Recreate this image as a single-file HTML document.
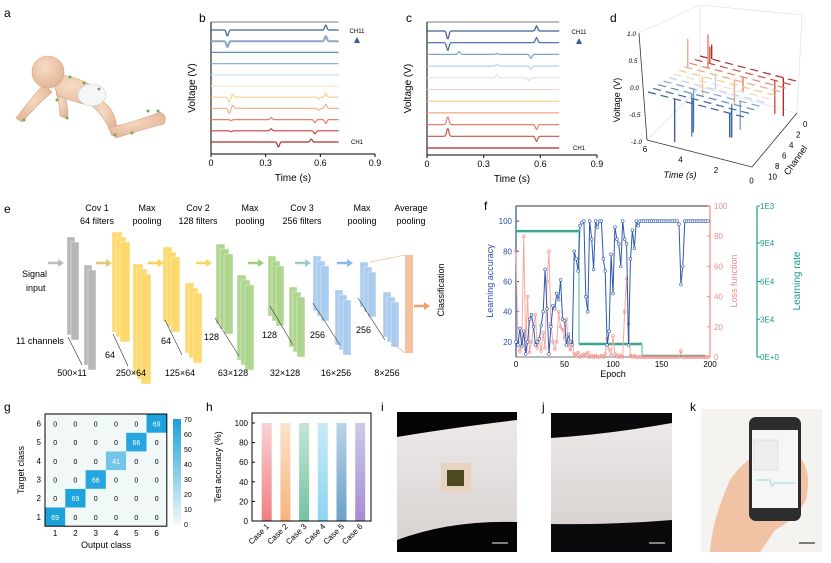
<!DOCTYPE html>
<html><head><meta charset="utf-8"><style>
body{margin:0;background:#fff;width:831px;height:563px;overflow:hidden}
svg{font-family:"Liberation Sans",sans-serif;display:block}
</style></head><body>
<svg id="fig" width="831" height="563" viewBox="0 0 831 563">
<defs>
<linearGradient id="cbar" x1="0" y1="1" x2="0" y2="0"><stop offset="0" stop-color="#f1f8f8"/><stop offset="1" stop-color="#1aa1dc"/></linearGradient>
<linearGradient id="arrB" x1="0" y1="1" x2="0" y2="0"><stop offset="0" stop-color="#c0392b"/><stop offset="0.5" stop-color="#f5d7a0"/><stop offset="1" stop-color="#2f5f9e"/></linearGradient>
<linearGradient id="skin" x1="0" y1="0" x2="0" y2="1"><stop offset="0" stop-color="#ede9e8"/><stop offset="1" stop-color="#d9d3d2"/></linearGradient>
<radialGradient id="babyskin" cx="0.4" cy="0.35" r="0.7"><stop offset="0" stop-color="#f7dcc6"/><stop offset="1" stop-color="#e2b394"/></radialGradient>
</defs>
<g id="labels" font-size="12" fill="#000">
<text x="4" y="17">a</text>
<text x="199" y="22">b</text>
<text x="406" y="22">c</text>
<text x="610" y="22">d</text>
<text x="4" y="213">e</text>
<text x="484" y="210">f</text>
<text x="4" y="411">g</text>
<text x="206" y="411">h</text>
<text x="381" y="411">i</text>
<text x="542" y="411">j</text>
<text x="690" y="411">k</text>
</g>
<!-- panel a baby -->
<g fill="url(#babyskin)" stroke="#d3a588" stroke-width="0.6">
<path d="M44 84 Q30 100 16 118 L22 122 Q36 106 52 92Z"/>
<path d="M56 92 Q60 106 60 116 L68 119 Q68 104 64 92Z"/>
<path d="M50 74 Q75 74 100 90 Q108 100 100 108 Q80 104 58 96Z"/>
<path d="M96 98 Q112 104 116 122 Q118 132 112 136 L108 126 Q100 112 92 106Z"/>
<path d="M108 128 Q135 122 160 112 Q168 116 164 124 Q140 130 116 138Z"/>
<circle cx="48" cy="72" r="16"/>
<ellipse cx="92" cy="95" rx="14" ry="11" fill="#f6f6f6" stroke="#cfcfcf"/>
<g fill="#6ab04c" stroke="none">
<circle cx="70" cy="77" r="1.5"/><circle cx="84" cy="83" r="1.5"/><circle cx="99" cy="89" r="1.5"/><circle cx="57" cy="100" r="1.5"/><circle cx="24" cy="120" r="1.5"/><circle cx="67" cy="118" r="1.5"/><circle cx="115" cy="135" r="1.5"/><circle cx="132" cy="133" r="1.5"/><circle cx="148" cy="111" r="1.5"/><circle cx="158" cy="111" r="1.5"/>
</g>
</g>
<g id="pb"></g><g id="pc"></g><g id="pd"></g><g id="pe"></g><g id="pf"></g><g id="pg"></g><g id="ph"></g>
<!-- photos -->
<g>
<rect x="397" y="412" width="120" height="140" fill="#050505"/>
<path d="M397 437 Q450 428 517 420 L517 522 Q450 520 397 540Z" fill="url(#skin)"/>
<rect x="441" y="463" width="30" height="30" fill="#e8d2c2"/>
<rect x="447" y="470" width="17" height="16" fill="#4d4a22"/>
<line x1="492" y1="543" x2="508" y2="543" stroke="#aaa" stroke-width="1.5"/>
</g>
<g>
<rect x="551" y="413" width="121" height="139" fill="#0a0a0c"/>
<path d="M551 438 Q610 434 672 423 L672 520 Q610 525 551 524Z" fill="url(#skin)"/>
<line x1="649" y1="543" x2="665" y2="543" stroke="#aaa" stroke-width="1.5"/>
</g>
<g>
<rect x="701" y="409" width="121" height="143" fill="#f4f3f0"/>
<path d="M710 552 Q712 520 730 480 Q740 465 752 458 L800 458 Q812 470 806 500 Q795 520 775 530 L760 552Z" fill="#f2c2a5"/>
<rect x="749" y="417" width="52" height="104" rx="7" fill="#2d2d30"/>
<rect x="752" y="430" width="46" height="78" fill="#f6f6f6"/>
<rect x="754" y="440" width="24" height="30" fill="#eee" stroke="#ccc" stroke-width="0.5"/>
<path d="M756 480 L770 480 Q772 490 774 483 L796 483" stroke="#9fd6e0" fill="none"/>
<line x1="799" y1="543" x2="815" y2="543" stroke="#555" stroke-width="1.5"/>
</g>
</svg>
<script>
const NS='http://www.w3.org/2000/svg';
function mk(parent,tag,attrs,text){const e=document.createElementNS(NS,tag);for(const k in attrs)e.setAttribute(k,attrs[k]);if(text!==undefined)e.textContent=text;parent.appendChild(e);return e;}

/* ===== panel b & c data ===== */
const timeTicks=[0,0.3,0.6,0.9];
const bColors=['#3d5f98','#8ea4c8','#5b8bc0','#8db6d8','#c9dfee','#f2e6cc','#f9cf93','#f6b08a','#e8806a','#c8463b','#a8312c'];
const bSpikes=[[[0.09,6],[0.63,-5]],[[0.09,6],[0.63,-5]],[],[],[],[],[[0.1,5],[0.12,-3],[0.59,2],[0.63,-4]],[[0.1,5],[0.12,-3],[0.59,2],[0.63,-4]],[[0.11,1],[0.33,-2],[0.57,3],[0.63,4]],[[0.11,1],[0.33,-2],[0.57,3]],[[0.37,5],[0.55,-3]]];
const cColors=['#3d5f98','#3d6aa6','#7ea5cf','#b9d4ea','#d6e6f3','#ecdcc6','#f6c98a','#f3a782','#e5806c','#d0503f','#b22b28'];
const cSpikes=[[[0.11,8],[0.58,-5]],[[0.11,8],[0.58,-5]],[[0.17,-3],[0.37,-1],[0.55,4]],[[0.37,-2],[0.55,3]],[[0.37,-3],[0.54,3]],[],[],[],[[0.11,-8],[0.58,5]],[[0.11,-8],[0.58,5]],[]];

function tracePanel(gid,x0,x1,top,bot,y0,dy,colors,spikes,name){
  const g=document.getElementById(gid);
  const sx=t=>x0+t/0.9*(x1-x0);
  mk(g,'line',{x1:x0,y1:top,x2:x0,y2:bot,stroke:'#000','stroke-width':1,});
  mk(g,'line',{x1:x0,y1:bot,x2:x1,y2:bot,stroke:'#000','stroke-width':1,});
  mk(g,'line',{x1:x0,y1:top,x2:sx(0.7),y2:top,stroke:'#000','stroke-width':0.6});
  timeTicks.forEach(t=>{mk(g,'line',{x1:sx(t),y1:bot,x2:sx(t),y2:bot+3,stroke:'#000'});
    mk(g,'text',{x:sx(t),y:bot+12,'font-size':9,'text-anchor':'middle',},String(t));});
  mk(g,'text',{x:(x0+x1)/2,y:bot+27,'font-size':10,'text-anchor':'middle',},'Time (s)');
  mk(g,'text',{x:0,y:0,'font-size':10,'text-anchor':'middle',transform:`translate(${x0-16},${(top+bot)/2}) rotate(-90)`,},'Voltage (V)');
  colors.forEach((c,i)=>{
    const yb=y0+i*dy;let d='';
    for(let t=0;t<=0.7001;t+=0.004){let y=yb;spikes[i].forEach(s=>{y+=s[1]*Math.exp(-Math.pow((t-s[0])/0.008,2));});d+=(d?'L':'M')+sx(t).toFixed(1)+' '+y.toFixed(1);}
    const p=mk(g,'path',{d:d,fill:'none',stroke:c,'stroke-width':(i===1&&gid==='pb')?2:1.2});
    
    
  });
  const ax=x1-18;
  mk(g,'line',{x1:ax,y1:y0+10*dy-10,x2:ax,y2:y0+12,stroke:'url(#arrB)','stroke-width':1,'stroke-dasharray':'2 1',});
  mk(g,'path',{d:`M${ax-3} ${y0+13}L${ax} ${y0+7}L${ax+3} ${y0+13}Z`,fill:'#2f5f9e'});
  mk(g,'text',{x:ax,y:y0+3,'font-size':6,'text-anchor':'middle'},'CH11');
  mk(g,'text',{x:ax,y:y0+10*dy+2,'font-size':6,'text-anchor':'middle'},'CH1');
}
tracePanel('pb',211,375,22,154,30,11.2,bColors,bSpikes,'panel-b');
tracePanel('pc',427,597,22,155,31,11.7,cColors,cSpikes,'panel-c');

/* ===== panel d (3D) ===== */
const dChannels=[0,1,2,3,4,5,6,7,8,9,10];
const dColors=['#b22b28','#d0503f','#e5806c','#f3a782','#f6c98a','#ecdcc6','#b9d4ea','#7ea5cf','#5b8bc0','#3d6aa6','#3d5f98'];
const dSpikeTimes=[[5.3,1.0],[5.1,1.2],[4.9,2.8],[5.8,3.0],[4.6],[],[3.2],[4.2,1.4],[4.0,1.6],[3.6,1.3],[4.4,1.1]];
const dSpikeAmp=[[0.3,-0.8],[0.35,-0.7],[0.7,-0.3],[0.6,-0.5],[-0.4],[],[0.3],[-0.8,-0.6],[-0.9,-0.7],[-0.7,-0.6],[-0.9,-0.5]];
(function(){
  const g=document.getElementById('pd');
  const gl='#ddd';
  [[639,33,700,5],[700,5,802,15],[802,15,797,113],[700,5,700,87],[700,87,797,113],[700,87,647,140]].forEach(l=>mk(g,'line',{x1:l[0],y1:l[1],x2:l[2],y2:l[3],stroke:gl,'stroke-width':0.6}));
  mk(g,'line',{x1:639,y1:33,x2:647,y2:140,stroke:'#333','stroke-width':0.8,});
  mk(g,'line',{x1:647,y1:140,x2:752,y2:167,stroke:'#333','stroke-width':0.8,});
  mk(g,'line',{x1:752,y1:167,x2:797,y2:113,stroke:'#333','stroke-width':0.8,});
  const vt=['1.0','0.5','0.0','-0.5','-1.0'];vt.forEach((s,i)=>mk(g,'text',{x:636+i*1.5,y:36+i*27,'font-size':6.5,'text-anchor':'end','font-style':'italic'},s));
  ['6','4','2','0'].forEach((s,i)=>mk(g,'text',{x:645+i*35.5,y:152+i*10.5,'font-size':8,'text-anchor':'middle'},s));
  ['0','2','4','6','8','10'].forEach((s,i)=>mk(g,'text',{x:803-i*7,y:127+i*10.5,'font-size':8},s));
  mk(g,'text',{x:0,y:0,'font-size':9,'text-anchor':'middle',transform:'translate(620,100) rotate(-90)',},'Voltage (V)');
  mk(g,'text',{x:680,y:178,'font-size':9,'font-style':'italic','text-anchor':'middle',},'Time (s)');
  mk(g,'text',{x:0,y:0,'font-size':9,'text-anchor':'middle',transform:'translate(798,162) rotate(-55)',},'Channel');
  const Q=(t,ch,v)=>[648+(6-t)/6*100+(10-ch)/10*52, 92+(6-t)/6*26-(10-ch)/10*36-v*48];
  dChannels.forEach((ch,i)=>{
    const a=Q(6,ch,0),b=Q(0,ch,0);
    const ln=mk(g,'line',{x1:a[0],y1:a[1],x2:b[0],y2:b[1],stroke:dColors[i],'stroke-width':1.2,'stroke-dasharray':'8 5'});
    
    
    dSpikeTimes[i].forEach((t,k)=>{const p=Q(t,ch,0),q=Q(t,ch,dSpikeAmp[i][k]);
      const s=mk(g,'line',{x1:p[0],y1:p[1],x2:q[0],y2:q[1],stroke:dColors[i],'stroke-width':1.4});
      
      });
  });
})();

/* ===== panel e (CNN diagram) ===== */
(function(){
  const g=document.getElementById('pe');
  const hdr=[['Cov 1','64 filters',97],['Max','pooling',147],['Cov 2','128 filters',198],['Max','pooling',250],['Cov 3','256 filters',302],['Max','pooling',362],['Average','pooling',411]];
  hdr.forEach(h=>{mk(g,'text',{x:h[2],y:211,'font-size':9,'text-anchor':'middle'},h[0]);mk(g,'text',{x:h[2],y:224,'font-size':9,'text-anchor':'middle'},h[1]);});
  const blocks=[[67,237,8,98,'#b5b5b5',2],[84,265,8,100,'#b5b5b5',2],[112,232,10,100,'#fdd86a',3],[133,264,10,110,'#fdd86a',3],[163,247,9,75,'#fdd86a',3],[185,283,9,70,'#fdd86a',3],[216,244,9,80,'#acd48c',3],[237,275,9,85,'#acd48c',3],[268,256,8,60,'#acd48c',3],[289,287,8,60,'#acd48c',3],[313,256,8,55,'#a9cbee',3],[335,290,8,55,'#a9cbee',3],[360,262,8,45,'#a9cbee',3],[383,292,8,45,'#a9cbee',3]];
  blocks.forEach(b=>{for(let k=0;k<b[5];k++)mk(g,'rect',{x:b[0]+k*4,y:b[1]+k*5,width:b[2],height:b[3],fill:b[4],stroke:'#fff','stroke-width':0.4,opacity:0.95});});
  mk(g,'rect',{x:405,y:255,width:8,height:98,fill:'#f5c2a0',});
  mk(g,'line',{x1:370,y1:262,x2:405,y2:255,stroke:'#f5a57a','stroke-width':0.6});
  mk(g,'line',{x1:395,y1:345,x2:405,y2:353,stroke:'#f5a57a','stroke-width':0.6});
  [[48,263,'#bbb'],[96,263,'#e8c870'],[148,263,'#fdd050'],[196,263,'#f5d860'],[248,263,'#9cd07a'],[295,263,'#9cc8d0'],[337,263,'#8ab8e8'],[414,306,'#f0a070']].forEach(a=>{
    mk(g,'line',{x1:a[0],y1:a[1],x2:a[0]+10,y2:a[1],stroke:a[2],'stroke-width':2.5});
    mk(g,'path',{d:`M${a[0]+10} ${a[1]-4}L${a[0]+16} ${a[1]}L${a[0]+10} ${a[1]+4}Z`,fill:a[2]});});
  [[22,277,'Signal'],[26,291,'input'],[16,344,'11 channels'],[105,358,'64'],[161,344,'64'],[204,340,'128'],[262,338,'128'],[310,338,'256'],[356,333,'256']].forEach(t=>mk(g,'text',{x:t[0],y:t[1],'font-size':9},t[2]));
  [[72,376,'500×11'],[131,376,'250×64'],[180,376,'125×64'],[233,376,'63×128'],[285,376,'32×128'],[336,376,'16×256'],[387,376,'8×256']].forEach(t=>mk(g,'text',{x:t[0],y:t[1],'font-size':9,'text-anchor':'middle'},t[2]));
  mk(g,'text',{x:0,y:0,'font-size':9,'text-anchor':'middle',transform:'translate(444,290) rotate(-90)',},'Classification');
  [[68,337,82,365],[113,334,128,366],[165,320,182,355],[215,318,239,356],[270,306,293,345],[313,303,340,345],[358,298,385,340]].forEach(l=>mk(g,'line',{x1:l[0],y1:l[1],x2:l[2],y2:l[3],stroke:'#333','stroke-width':0.6}));
})();

/* ===== panel f (training curves) ===== */
const fEpochs=[];for(let e=0;e<200;e+=2)fEpochs.push(e);
const accuracy=[20,18,29,17,27,12,20,35,38,30,18,20,22,31,40,68,42,12,30,44,42,52,48,61,35,34,18,25,20,18,80,75,67,97,99,100,50,40,100,88,68,100,96,100,100,75,67,18,27,78,52,96,88,85,70,100,88,85,18,75,94,82,100,97,100,100,100,100,100,100,100,100,100,100,100,100,100,100,100,100,100,100,100,100,98,58,70,100,100,100,100,100,100,100,100,100,100,100,100,100];
const loss=[70,10,4,8,80,5,40,3,10,20,28,6,12,4,16,6,50,70,22,10,5,10,30,20,18,12,25,8,5,10,2,1,3,0,1,2,1,3,0,1,0,1,0,0,1,0,2,12,5,1,14,2,1,0,1,0,30,52,22,1,0,1,0,0,0,0,0,0,0,0,0,0,0,0,0,0,0,0,0,0,0,0,0,0,0,4,0,0,0,0,0,0,0,0,0,0,0,0,0,0];
const lrSteps=[[0,65,834],[65,130,86],[130,195,7]];
const accTicks=[20,40,60,80,100];
const lossTicks=[0,20,40,60,80,100];
const lrTickLabels=['0E+0','3E4','6E4','9E4','1E3'];
const lrTickVals=[0,250,500,755,1000];
const epochTicks=[0,50,100,150,200];
(function(){
  const g=document.getElementById('pf');
  const fx=e=>516+e/200*194, fyA=v=>357-(v-10)/100*151, fyL=v=>357-v/100*151, fyR=v=>357-v/1000*151;
  mk(g,'line',{x1:516,y1:206,x2:710,y2:206,stroke:'#777','stroke-width':1.5});
  mk(g,'line',{x1:516,y1:357,x2:710,y2:357,stroke:'#777','stroke-width':1,});
  mk(g,'line',{x1:516,y1:206,x2:516,y2:357,stroke:'#2e4fa0','stroke-width':1.2,});
  mk(g,'line',{x1:710,y1:206,x2:710,y2:357,stroke:'#f48a86','stroke-width':1.2,});
  mk(g,'line',{x1:757,y1:206,x2:757,y2:357,stroke:'#1a9c8c','stroke-width':1.2,});
  accTicks.forEach(v=>{mk(g,'text',{x:512,y:fyA(v)+3,'font-size':8,'text-anchor':'end',fill:'#2e4fa0'},String(v));mk(g,'line',{x1:516,y1:fyA(v),x2:519,y2:fyA(v),stroke:'#2e4fa0'});});
  lossTicks.forEach(v=>{mk(g,'text',{x:714,y:fyL(v)+3,'font-size':8,fill:'#f48a86'},String(v));mk(g,'line',{x1:707,y1:fyL(v),x2:710,y2:fyL(v),stroke:'#f48a86'});});
  lrTickVals.forEach((v,i)=>{mk(g,'text',{x:760,y:fyR(v)+3,'font-size':8,fill:'#1a9c8c'},lrTickLabels[i]);mk(g,'line',{x1:757,y1:fyR(v),x2:760,y2:fyR(v),stroke:'#1a9c8c'});});
  epochTicks.forEach(v=>{mk(g,'text',{x:fx(v),y:367,'font-size':8,'text-anchor':'middle'},String(v));});
  mk(g,'text',{x:613,y:377,'font-size':9,'text-anchor':'middle',},'Epoch');
  mk(g,'text',{x:0,y:0,'font-size':9,'text-anchor':'middle',fill:'#2e4fa0',transform:'translate(493,281) rotate(-90)',},'Learning accuracy');
  mk(g,'text',{x:0,y:0,'font-size':9,'text-anchor':'middle',fill:'#f48a86',transform:'translate(737,281) rotate(-90)',},'Loss function');
  mk(g,'text',{x:0,y:0,'font-size':10,'text-anchor':'middle',fill:'#1a9c8c',transform:'translate(800,281) rotate(-90)',},'Learning rate');
  lrSteps.forEach((s,i)=>{
    const l=mk(g,'line',{x1:fx(s[0]),y1:fyR(s[2]),x2:fx(s[1]),y2:fyR(s[2]),stroke:'#3aa890','stroke-width':2.5});
    
    
    if(i<lrSteps.length-1){mk(g,'line',{x1:fx(s[1]),y1:fyR(s[2]),x2:fx(s[1]),y2:fyR(lrSteps[i+1][2]),stroke:'#7fd0c0','stroke-width':1.5});}
  });
  let dl='';loss.forEach((v,i)=>dl+=(i?'L':'M')+fx(fEpochs[i]).toFixed(1)+' '+fyL(v).toFixed(1));
  const pl=mk(g,'path',{d:dl,fill:'none',stroke:'#f7a8a4','stroke-width':1});
  
  
  loss.forEach((v,i)=>{const c=mk(g,'circle',{cx:fx(fEpochs[i]),cy:fyL(v),r:1.4,fill:'none',stroke:'#f48a86','stroke-width':0.6});
    
    });
  let da='';accuracy.forEach((v,i)=>da+=(i?'L':'M')+fx(fEpochs[i]).toFixed(1)+' '+fyA(v).toFixed(1));
  const pa=mk(g,'path',{d:da,fill:'none',stroke:'#2e5aac','stroke-width':1});
  
  
  accuracy.forEach((v,i)=>{const c=mk(g,'circle',{cx:fx(fEpochs[i]),cy:fyA(v),r:1.4,fill:'#fff',stroke:'#2e5aac','stroke-width':0.6});
    
    });
})();

/* ===== panel g (confusion matrix) ===== */
const gClasses=[1,2,3,4,5,6];
const gDiag=[69,69,66,41,66,69];
const gBarTicks=[0,10,20,30,40,50,60,70];
(function(){
  const g=document.getElementById('pg');
  const x0=45,y0=414,cw=20.3,ch=18.7;
  const col=v=>{const t=v/70;const a=[241,248,248],b=[26,161,220];return `rgb(${a.map((c,i)=>Math.round(c+(b[i]-c)*t)).join(',')})`;};
  gClasses.forEach((tc)=>gClasses.forEach((oc)=>{
    const val=tc===oc?gDiag[tc-1]:0;
    const x=x0+(oc-1)*cw,y=y0+(6-tc)*ch;
    const rc=mk(g,'rect',{x:x,y:y,width:cw,height:ch,fill:col(val)});
    
    
    mk(g,'text',{x:x+cw/2,y:y+ch/2+3,'font-size':7,'text-anchor':'middle',fill:val?'#fff':'#000'},String(val));
  }));
  mk(g,'rect',{x:x0,y:y0,width:6*cw,height:6*ch,fill:'none',stroke:'#000','stroke-width':1,});
  gClasses.forEach(c=>{mk(g,'text',{x:x0+(c-0.5)*cw,y:y0+6*ch+10,'font-size':8,'text-anchor':'middle'},String(c));mk(g,'text',{x:x0-4,y:y0+(6-c+0.5)*ch+3,'font-size':8,'text-anchor':'end'},String(c));});
  mk(g,'rect',{x:173,y:419,width:8,height:105,fill:'url(#cbar)',});
  gBarTicks.forEach(v=>mk(g,'text',{x:184,y:524-v/70*105+3,'font-size':7},String(v)));
  mk(g,'text',{x:106,y:548,'font-size':9,'text-anchor':'middle',},'Output class');
  mk(g,'text',{x:0,y:0,'font-size':9,'text-anchor':'middle',transform:'translate(24,470) rotate(-90)',},'Target class');
})();

/* ===== panel h (bars) ===== */
const hCases=['Case 1','Case 2','Case 3','Case 4','Case 5','Case 6'];
const hAccuracy=[100,100,100,100,100,100];
const hTicks=[0,20,40,60,80,100];
(function(){
  const g=document.getElementById('ph');
  const top=[['#f8d3d5','#ef7f80'],['#fbe3cc','#f7b47c'],['#c4e6d6','#74c2a2'],['#c9ebf9','#8cd4f2'],['#b9d3e7','#6ba1c9'],['#cccbea','#a68ad6']];
  const defs=document.querySelector('defs');
  top.forEach((c,i)=>{const lg=mk(defs,'linearGradient',{id:'hg'+i,x1:0,y1:0,x2:0,y2:1});mk(lg,'stop',{offset:0,'stop-color':c[0]});mk(lg,'stop',{offset:1,'stop-color':c[1]});});
  const fy=v=>521-v/100*98, fx=i=>266.7+i*18.7;
  hCases.forEach((c,i)=>{
    const r=mk(g,'rect',{x:fx(i)-5,y:fy(hAccuracy[i]),width:10,height:521-fy(hAccuracy[i]),fill:`url(#hg${i})`});
    
    
    mk(g,'text',{x:0,y:0,'font-size':8,'text-anchor':'end',transform:`translate(${fx(i)+3},${527}) rotate(-45)`},c);
  });
  mk(g,'rect',{x:252,y:413,width:119,height:108,fill:'none',stroke:'#000','stroke-width':1,});
  hTicks.forEach(v=>{mk(g,'text',{x:248,y:fy(v)+3,'font-size':8,'text-anchor':'end'},String(v));mk(g,'line',{x1:252,y1:fy(v),x2:255,y2:fy(v),stroke:'#000'});});
  mk(g,'text',{x:0,y:0,'font-size':9,'text-anchor':'middle',transform:'translate(221,467) rotate(-90)',},'Test accuracy (%)');
})();
</script>
</body></html>
